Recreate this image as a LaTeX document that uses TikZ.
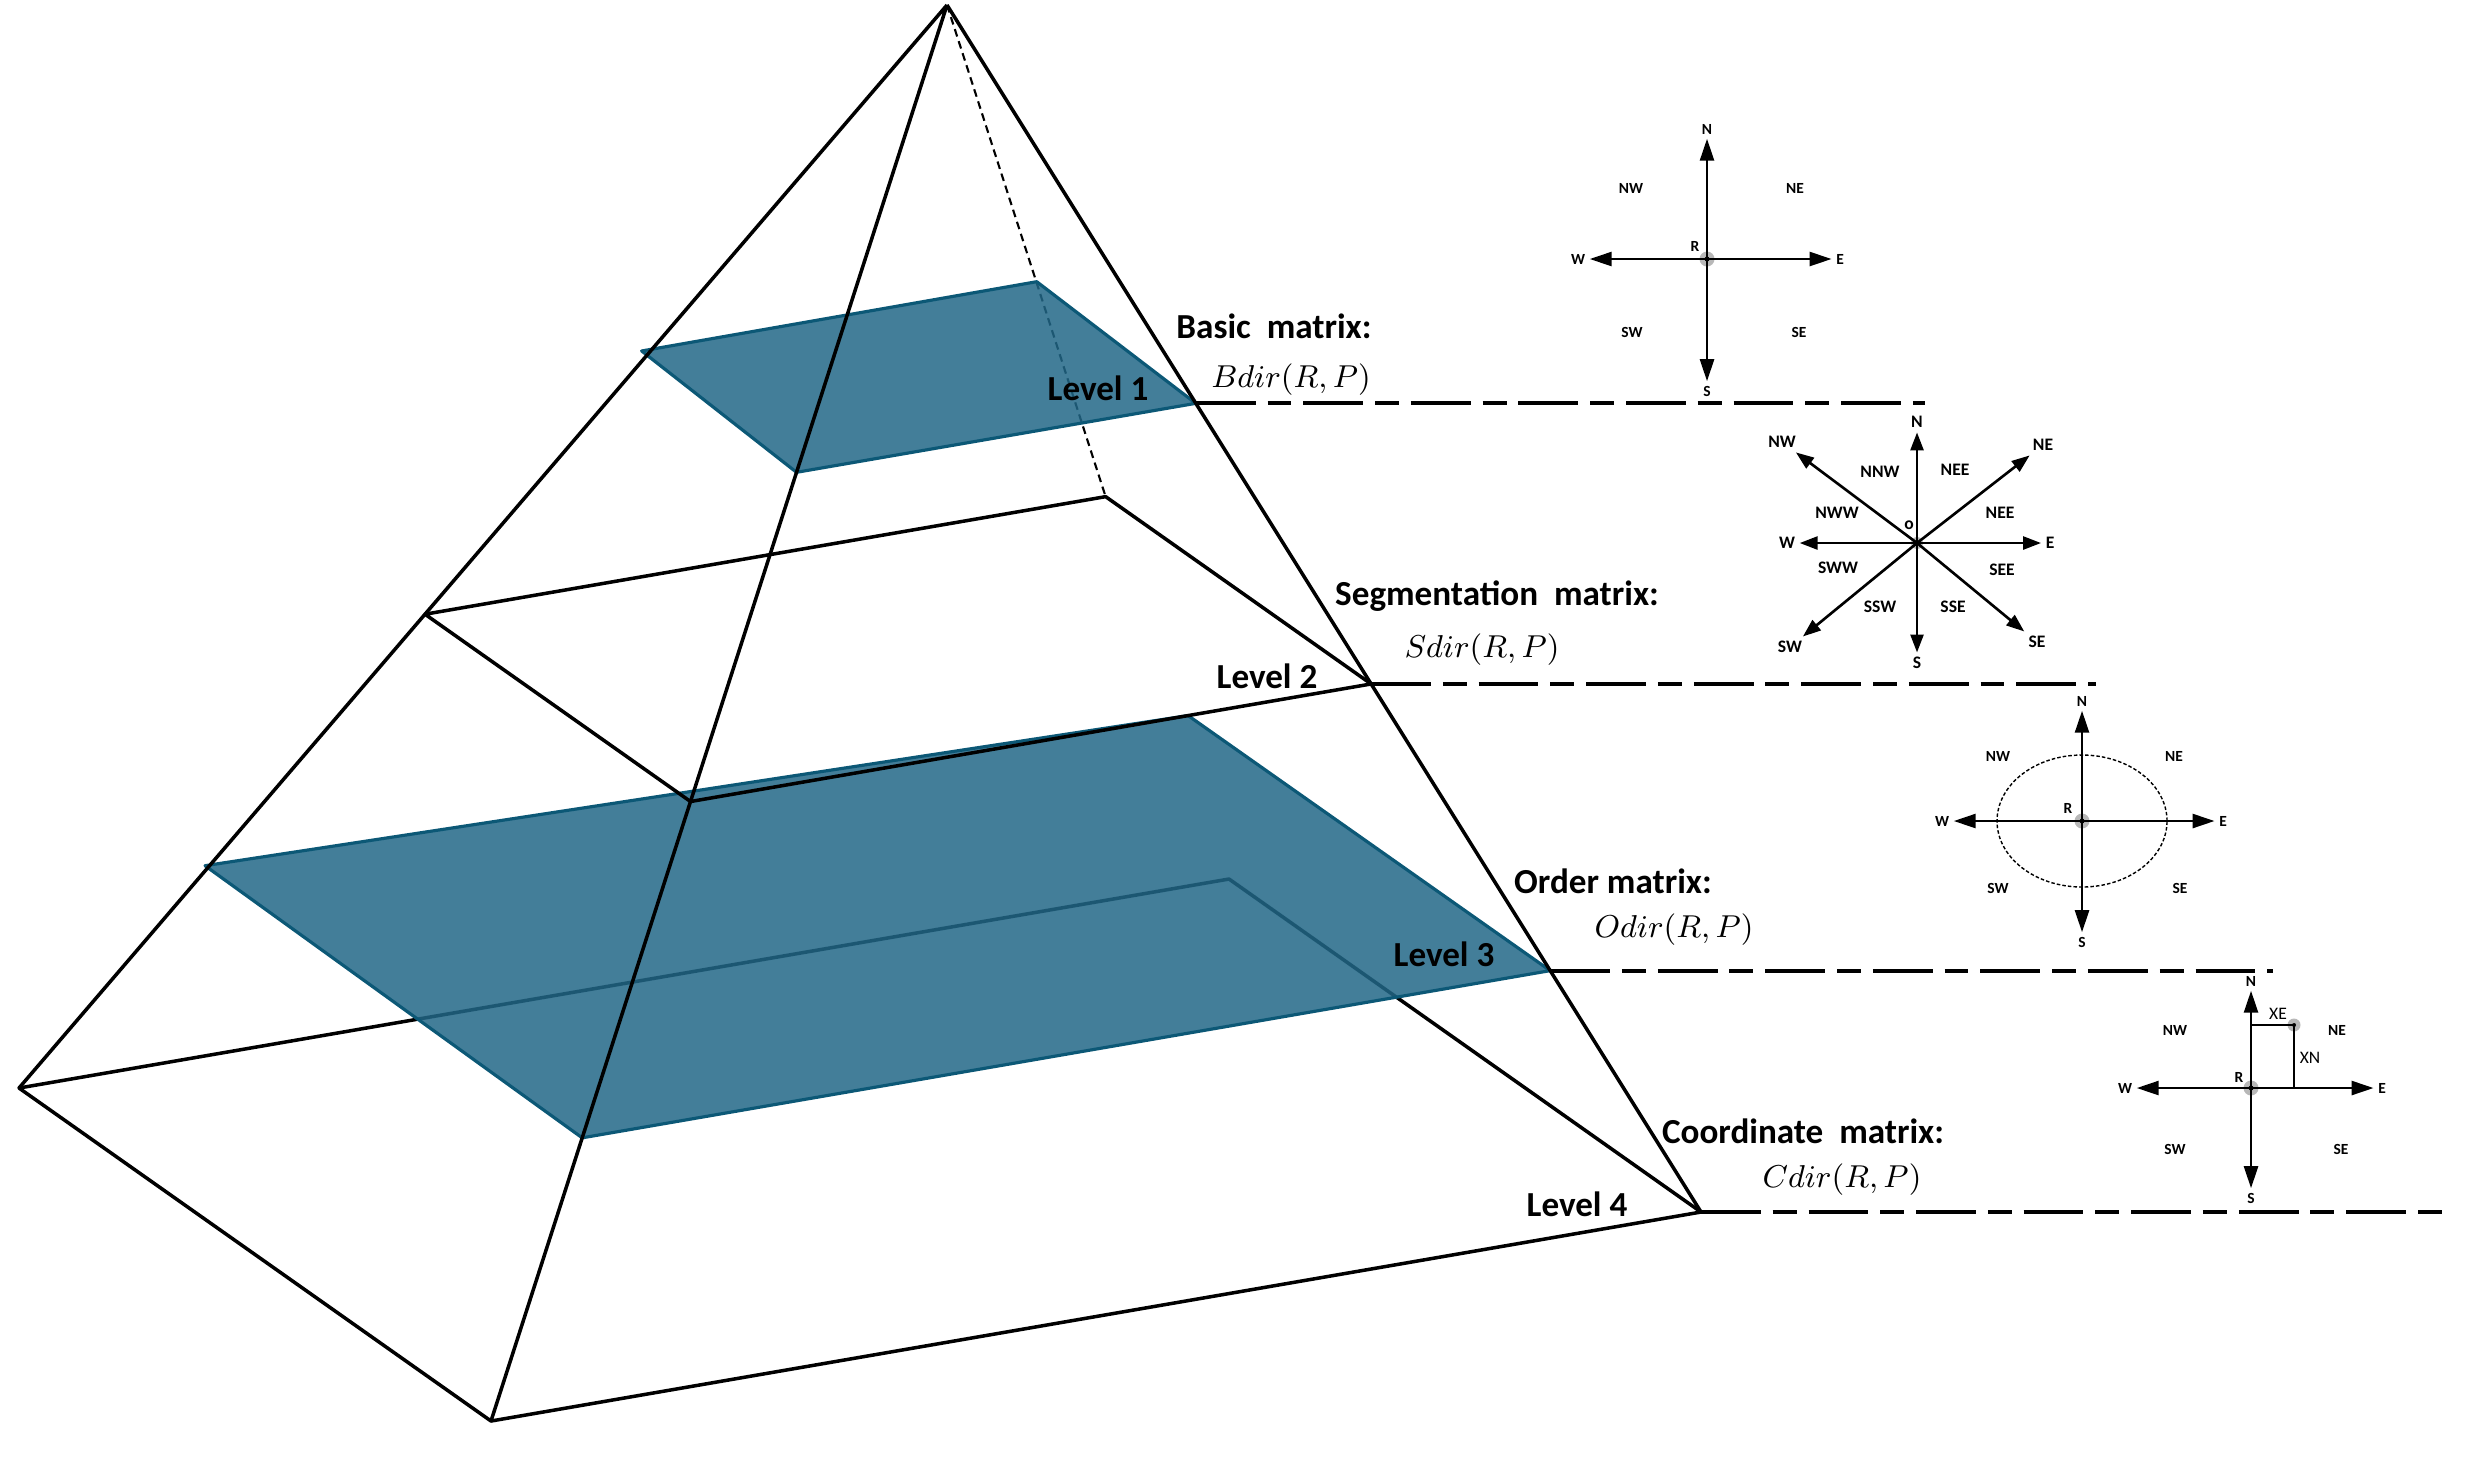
\documentclass[tikz,border=0pt]{standalone}
\usepackage{fontspec}
\setmainfont{Carlito}
\usetikzlibrary{arrows.meta}
\definecolor{planeblue}{RGB}{34,103,135}
\definecolor{planeedge}{RGB}{12,88,118}
\begin{document}
\begin{tikzpicture}[x=0.1mm,y=-0.1mm,>={Triangle[length=2.2mm,width=1.4mm]},
        edge/.style={line width=1pt,line join=round},
        hidden/.style={line width=0.6pt,dash pattern=on 2.2pt off 1.4pt},
        plane/.style={fill=planeblue,fill opacity=0.85,draw=planeedge,line width=0.9pt,line join=round},
        levelline/.style={line width=1.2pt,dash pattern=on 17pt off 3.4pt on 6.8pt off 3.4pt},
        title/.style={font=\fontsize{10}{12}\selectfont\bfseries,inner sep=0pt},
        formula/.style={font=\fontsize{9.2}{11}\selectfont,inner sep=0pt},
        dir/.style={font=\fontsize{4.4}{5}\selectfont\bfseries,inner sep=0.4mm},
        dirb/.style={font=\fontsize{5}{6}\selectfont\bfseries,inner sep=0.4mm},
        arm/.style={line width=0.75pt,->},
        dotring/.style={fill=black!28}]
        \useasboundingbox (0,0) rectangle (2484,1458);
        \begin{scope}[shift={(860,1150)},x={(23.6mm,-16.65mm)},y={(60.5mm,10.45mm)},z={(8.7mm,114.5mm)}]
        \coordinate (apex) at (0,0,1);
        \coordinate (L1) at (-0.33,-0.33,0.68);
        \coordinate (F1) at (0.33,-0.33,0.67);
        \coordinate (R1) at (0.33,0.33,0.67);
        \coordinate (B1) at (-0.335,0.325,0.68);
        \coordinate (L2) at (-0.5625,-0.5625,0.4375);
        \coordinate (F2) at (0.5625,-0.5625,0.4375);
        \coordinate (R2) at (0.5625,0.5625,0.4375);
        \coordinate (B2) at (-0.5625,0.5625,0.4375);
        \coordinate (L3) at (-0.8,-0.8,0.205);
        \coordinate (F3) at (0.8,-0.8,0.2);
        \coordinate (R3) at (0.8,0.8,0.2);
        \coordinate (B3) at (0.5625,0.26,0.4375);
        \coordinate (L4) at (-1,-1,0);
        \coordinate (F4) at (1,-1,0);
        \coordinate (R4) at (1,1,0);
        \coordinate (B4) at (-1,1,0);
        \end{scope}
        \draw[edge] (L4) -- (F4) -- (R4) -- (B4) -- cycle;
        \draw[hidden] (apex) -- (B2);
        \filldraw[plane] (L1) -- (F1) -- (R1) -- (B1) -- cycle;
        \filldraw[plane] (L3) -- (F3) -- (R3) -- (B3) -- cycle;
        \draw[edge] (L2) -- (F2) -- (R2) -- (B2) -- cycle;
        \draw[edge] (apex) -- (L4) (apex) -- (F4) (apex) -- (R4);
        \coordinate (end1) at (1925,0);
        \coordinate (end2) at (2096,0);
        \coordinate (end3) at (2273,0);
        \coordinate (end4) at (2452,0);
        \draw[levelline] (R1) -- (R1 -| end1);
        \draw[levelline] (R2) -- (R2 -| end2);
        \draw[levelline] (R3) -- (R3 -| end3);
        \draw[levelline] (R4) -- (R4 -| end4);
        \node[title] (lvl1) at (1098,388) {Level 1};
        \node[title] (lvl2) at (1267,676) {Level 2};
        \node[title] (lvl3) at (1444,954) {Level 3};
        \node[title] (lvl4) at (1577,1204) {Level 4};
        \node[title] (basic) at (1274,326) {Basic\ \ matrix:};
        \node[formula] (bdir) at (1291,380) {$Bdir(R,P)$};
        \node[title] (segm) at (1497,596) {Segmentation\ \ matrix:};
        \node[formula] (sdir) at (1482,650) {$Sdir(R,P)$};
        \node[title] (order) at (1613,881) {Order matrix:};
        \node[formula] (odir) at (1674,930) {$Odir(R,P)$};
        \node[title] (coord) at (1803,1131) {Coordinate\ \ matrix:};
        \node[formula] (cdir) at (1842,1180) {$Cdir(R,P)$};
        \coordinate (c1) at (1707,259);
        \fill[dotring] (c1) circle[radius=0.75mm];
        \node[dir] (n1) at (1707,129) {N};
        \node[dir] (s1) at (1707,391) {S};
        \node[dir] (w1) at (1578,259) {W};
        \node[dir] (e1) at (1840,259) {E};
        \node[dir] (nw1) at (1631,188) {NW};
        \node[dir] (ne1) at (1795,188) {NE};
        \node[dir] (sw1) at (1632,332) {SW};
        \node[dir] (se1) at (1799,332) {SE};
        \node[dir] (r1) at (1695,246) {R};
        \draw[arm] (c1) -- (n1);
        \draw[arm] (c1) -- (s1);
        \draw[arm] (c1) -- (w1);
        \draw[arm] (c1) -- (e1);
        \fill (c1) circle[radius=0.25mm];
        \coordinate (c2) at (1917,543);
        \fill[dotring] (c2) circle[radius=0.6mm];
        \node[dirb] (n2) at (1917,422) {N};
        \node[dirb] (s2) at (1917,663) {S};
        \node[dirb] (w2) at (1787,543) {W};
        \node[dirb] (e2) at (2050,543) {E};
        \node[dirb] (nw2) at (1782,442) {NW};
        \node[dirb] (ne2) at (2043,445) {NE};
        \node[dirb] (sw2) at (1790,647) {SW};
        \node[dirb] (se2) at (2037,642) {SE};
        \node[dirb] (nnw2) at (1880,472) {NNW};
        \node[dirb] (nee2) at (1955,470) {NEE};
        \node[dirb] (nww2) at (1837,513) {NWW};
        \node[dirb] (neeb2) at (2000,513) {NEE};
        \node[dirb] (sww2) at (1838,568) {SWW};
        \node[dirb] (see2) at (2002,570) {SEE};
        \node[dirb] (ssw2) at (1880,607) {SSW};
        \node[dirb] (sse2) at (1953,607) {SSE};
        \node[dirb] (o2) at (1909,525) {o};
        \begin{scope}[>={Triangle[length=1.8mm,width=1.3mm]}]
        \draw[arm] (c2) -- (n2);
        \draw[arm] (c2) -- (s2);
        \draw[arm] (c2) -- (w2);
        \draw[arm] (c2) -- (e2);
        \draw[arm] (c2) -- (nw2);
        \draw[arm] (c2) -- (ne2);
        \draw[arm] (c2) -- (sw2);
        \draw[arm] (c2) -- (se2);
        \end{scope}
        \coordinate (c3) at (2082,821);
        \draw[line width=0.4pt,dash pattern=on 1pt off 0.6pt] (c3) ellipse[x radius=8.5mm,y radius=6.6mm];
        \fill[dotring] (c3) circle[radius=0.75mm];
        \node[dir] (n3) at (2082,701) {N};
        \node[dir] (s3) at (2082,942) {S};
        \node[dir] (w3) at (1942,821) {W};
        \node[dir] (e3) at (2223,821) {E};
        \node[dir] (nw3) at (1998,756) {NW};
        \node[dir] (ne3) at (2174,756) {NE};
        \node[dir] (sw3) at (1998,888) {SW};
        \node[dir] (se3) at (2180,888) {SE};
        \node[dir] (r3) at (2068,808) {R};
        \draw[arm] (c3) -- (n3);
        \draw[arm] (c3) -- (s3);
        \draw[arm] (c3) -- (w3);
        \draw[arm] (c3) -- (e3);
        \fill (c3) circle[radius=0.25mm];
        \coordinate (c4) at (2251,1088);
        \coordinate (p4) at (2294,1025);
        \fill[dotring] (c4) circle[radius=0.75mm];
        \fill[dotring] (p4) circle[radius=0.65mm];
        \node[dir] (n4) at (2251,981) {N};
        \node[dir] (s4) at (2251,1198) {S};
        \node[dir] (w4) at (2125,1088) {W};
        \node[dir] (e4) at (2382,1088) {E};
        \node[dir] (nw4) at (2175,1030) {NW};
        \node[dir] (ne4) at (2337,1030) {NE};
        \node[dir] (sw4) at (2175,1149) {SW};
        \node[dir] (se4) at (2341,1149) {SE};
        \node[dir] (r4) at (2239,1077) {R};
        \node[font=\fontsize{5}{6}\selectfont,inner sep=0pt] (xe4) at (2278,1014) {XE};
        \node[font=\fontsize{5}{6}\selectfont,inner sep=0pt] (xn4) at (2310,1058) {XN};
        \draw[line width=0.6pt] (c4 |- p4) -- (p4) -- (p4 |- c4);
        \draw[arm] (c4) -- (n4);
        \draw[arm] (c4) -- (s4);
        \draw[arm] (c4) -- (w4);
        \draw[arm] (c4) -- (e4);
        \fill (c4) circle[radius=0.25mm];
        \fill (p4) circle[radius=0.2mm];
        \end{tikzpicture}
\end{document}
